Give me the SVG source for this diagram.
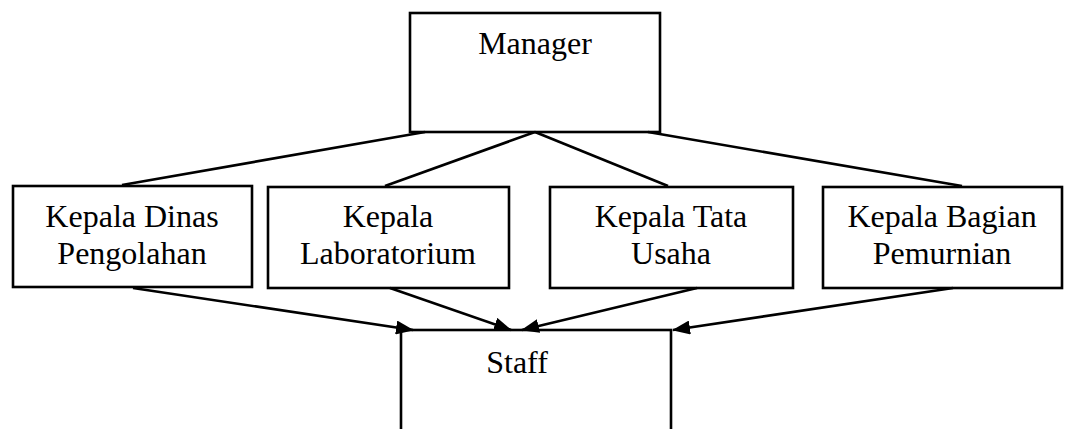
<svg xmlns="http://www.w3.org/2000/svg" width="1074" height="429" viewBox="0 0 1074 429">
<style>
.box{fill:#fff;stroke:#000;stroke-width:2.6}
.t{font-family:"Liberation Serif","Times New Roman",serif;font-size:32px;fill:#000;text-anchor:middle}
.c{stroke:#000;stroke-width:2.6;fill:none}
</style>
<defs>
<marker id="ah" markerWidth="18" markerHeight="14" refX="17" refY="7" orient="auto" markerUnits="userSpaceOnUse">
<path d="M0,0 L18,7 L0,14 Z" fill="#000"/>
</marker>
</defs>
<g id="manager">
<rect class="box" x="410" y="13" width="250" height="119"/>
<text class="t" x="535" y="54">Manager</text>
</g>
<g id="kepala-dinas">
<rect class="box" x="13" y="186" width="239" height="101"/>
<text class="t" x="132" y="227">Kepala Dinas</text>
<text class="t" x="132" y="264">Pengolahan</text>
</g>
<g id="kepala-lab">
<rect class="box" x="268" y="187" width="241" height="101"/>
<text class="t" x="388" y="227">Kepala</text>
<text class="t" x="388" y="264">Laboratorium</text>
</g>
<g id="kepala-tu">
<rect class="box" x="550" y="187" width="243" height="101"/>
<text class="t" x="671" y="227">Kepala Tata</text>
<text class="t" x="671" y="264">Usaha</text>
</g>
<g id="kepala-bagian">
<rect class="box" x="823" y="187" width="239" height="101"/>
<text class="t" x="942" y="227">Kepala Bagian</text>
<text class="t" x="942" y="264">Pemurnian</text>
</g>
<g id="staff">
<rect class="box" x="401" y="330" width="270" height="130"/>
<text class="t" x="517" y="373">Staff</text>
</g>
<g id="connectors">
<line class="c" x1="425" y1="132" x2="122" y2="185"/>
<line class="c" x1="535" y1="132" x2="385" y2="186"/>
<line class="c" x1="535" y1="132" x2="668" y2="186"/>
<line class="c" x1="648" y1="132" x2="962" y2="186"/>
<line class="c" x1="133" y1="288" x2="413" y2="330" marker-end="url(#ah)"/>
<line class="c" x1="390" y1="288" x2="511" y2="330" marker-end="url(#ah)"/>
<line class="c" x1="697" y1="288" x2="522" y2="330" marker-end="url(#ah)"/>
<line class="c" x1="953" y1="288" x2="673" y2="330" marker-end="url(#ah)"/>
</g>
</svg>
